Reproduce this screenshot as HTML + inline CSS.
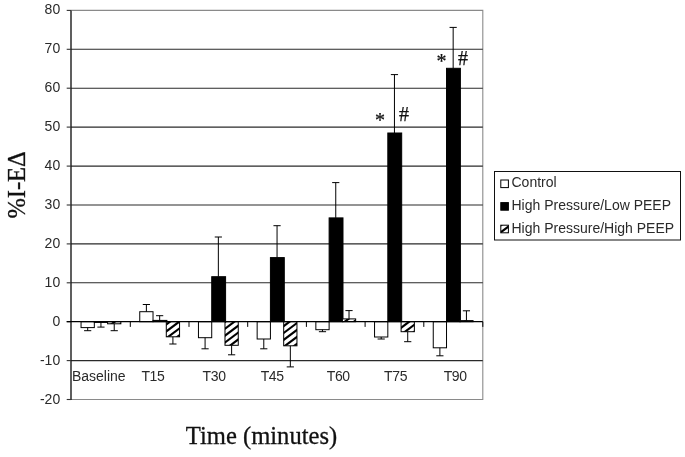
<!DOCTYPE html>
<html><head><meta charset="utf-8"><title>Chart</title>
<style>
html,body{margin:0;padding:0;background:#fff;}
body{width:685px;height:457px;overflow:hidden;}
svg{display:block;}
.ax{font-family:"Liberation Sans",Arial,sans-serif;font-size:14px;fill:#2a2a2a;}
.tl{letter-spacing:-0.4px;}
.ti{font-family:"Liberation Serif","Times New Roman",serif;font-size:24px;fill:#111;stroke:#111;stroke-width:0.3px;}
.mk{font-family:"Liberation Serif","Times New Roman",serif;font-size:20px;fill:#111;stroke:#111;stroke-width:0.25px;}
</style></head><body>
<svg width="685" height="457" viewBox="0 0 685 457">
<rect width="685" height="457" fill="#fff"/>
<path d="M71.0 10.4H482.8V399.5H71.0" fill="none" stroke="#8a8a8a" stroke-width="1.1"/>
<line x1="71.0" x2="482.8" y1="360.6" y2="360.6" stroke="#2a2a2a" stroke-width="1.1"/>
<line x1="71.0" x2="482.8" y1="282.8" y2="282.8" stroke="#2a2a2a" stroke-width="1.1"/>
<line x1="71.0" x2="482.8" y1="243.9" y2="243.9" stroke="#2a2a2a" stroke-width="1.1"/>
<line x1="71.0" x2="482.8" y1="205.0" y2="205.0" stroke="#2a2a2a" stroke-width="1.1"/>
<line x1="71.0" x2="482.8" y1="166.1" y2="166.1" stroke="#2a2a2a" stroke-width="1.1"/>
<line x1="71.0" x2="482.8" y1="127.1" y2="127.1" stroke="#2a2a2a" stroke-width="1.1"/>
<line x1="71.0" x2="482.8" y1="88.2" y2="88.2" stroke="#2a2a2a" stroke-width="1.1"/>
<line x1="71.0" x2="482.8" y1="49.3" y2="49.3" stroke="#2a2a2a" stroke-width="1.1"/>
<line x1="71.0" x2="71.0" y1="10.4" y2="400.0" stroke="#1a1a1a" stroke-width="1.4"/>
<line x1="66.7" x2="71.0" y1="399.5" y2="399.5" stroke="#333" stroke-width="1.1"/>
<text class="ax" x="60.2" y="404.4" text-anchor="end">-20</text>
<line x1="66.7" x2="71.0" y1="360.6" y2="360.6" stroke="#333" stroke-width="1.1"/>
<text class="ax" x="60.2" y="365.3" text-anchor="end">-10</text>
<line x1="66.7" x2="71.0" y1="321.7" y2="321.7" stroke="#333" stroke-width="1.1"/>
<text class="ax" x="60.2" y="326.3" text-anchor="end">0</text>
<line x1="66.7" x2="71.0" y1="282.8" y2="282.8" stroke="#333" stroke-width="1.1"/>
<text class="ax" x="60.2" y="287.2" text-anchor="end">10</text>
<line x1="66.7" x2="71.0" y1="243.9" y2="243.9" stroke="#333" stroke-width="1.1"/>
<text class="ax" x="60.2" y="248.2" text-anchor="end">20</text>
<line x1="66.7" x2="71.0" y1="205.0" y2="205.0" stroke="#333" stroke-width="1.1"/>
<text class="ax" x="60.2" y="209.2" text-anchor="end">30</text>
<line x1="66.7" x2="71.0" y1="166.1" y2="166.1" stroke="#333" stroke-width="1.1"/>
<text class="ax" x="60.2" y="170.1" text-anchor="end">40</text>
<line x1="66.7" x2="71.0" y1="127.1" y2="127.1" stroke="#333" stroke-width="1.1"/>
<text class="ax" x="60.2" y="131.1" text-anchor="end">50</text>
<line x1="66.7" x2="71.0" y1="88.2" y2="88.2" stroke="#333" stroke-width="1.1"/>
<text class="ax" x="60.2" y="92.0" text-anchor="end">60</text>
<line x1="66.7" x2="71.0" y1="49.3" y2="49.3" stroke="#333" stroke-width="1.1"/>
<text class="ax" x="60.2" y="52.9" text-anchor="end">70</text>
<line x1="66.7" x2="71.0" y1="10.4" y2="10.4" stroke="#333" stroke-width="1.1"/>
<text class="ax" x="60.2" y="13.9" text-anchor="end">80</text>
<rect x="81.05" y="321.70" width="13.27" height="5.90" fill="#fff" stroke="#000" stroke-width="1"/>
<path d="M87.69 327.60V330.70M84.09 330.70H91.28" stroke="#000" stroke-width="1" fill="none"/>
<rect x="94.32" y="321.70" width="13.87" height="0.70" fill="#000" stroke="#000" stroke-width="1"/>
<path d="M100.95 322.40V327.10M97.36 327.10H104.55" stroke="#000" stroke-width="1" fill="none"/>
<clipPath id="c1"><rect x="107.59" y="321.70" width="13.27" height="2.10"/></clipPath><rect x="107.59" y="321.70" width="13.27" height="2.10" fill="#fff"/><g clip-path="url(#c1)" stroke="#000" stroke-width="2.15"><line x1="105.59" y1="314.78" x2="122.86" y2="301.83"/><line x1="105.59" y1="321.68" x2="122.86" y2="308.73"/><line x1="105.59" y1="328.58" x2="122.86" y2="315.63"/><line x1="105.59" y1="335.48" x2="122.86" y2="322.53"/><line x1="105.59" y1="342.38" x2="122.86" y2="329.43"/><line x1="105.59" y1="349.28" x2="122.86" y2="336.33"/></g><rect x="107.59" y="321.70" width="13.27" height="2.10" fill="none" stroke="#000" stroke-width="1"/>
<path d="M114.23 323.80V330.70M110.63 330.70H117.83" stroke="#000" stroke-width="1" fill="none"/>
<rect x="139.75" y="311.70" width="13.27" height="10.00" fill="#fff" stroke="#000" stroke-width="1"/>
<path d="M146.38 311.70V304.50M142.78 304.50H149.98" stroke="#000" stroke-width="1" fill="none"/>
<rect x="153.02" y="320.40" width="13.87" height="1.30" fill="#000" stroke="#000" stroke-width="1"/>
<path d="M159.66 320.40V315.70M156.06 315.70H163.25" stroke="#000" stroke-width="1" fill="none"/>
<clipPath id="c2"><rect x="166.29" y="321.70" width="13.27" height="15.10"/></clipPath><rect x="166.29" y="321.70" width="13.27" height="15.10" fill="#fff"/><g clip-path="url(#c2)" stroke="#000" stroke-width="2.15"><line x1="164.29" y1="312.16" x2="181.56" y2="299.20"/><line x1="164.29" y1="319.06" x2="181.56" y2="306.10"/><line x1="164.29" y1="325.96" x2="181.56" y2="313.00"/><line x1="164.29" y1="332.86" x2="181.56" y2="319.90"/><line x1="164.29" y1="339.76" x2="181.56" y2="326.81"/><line x1="164.29" y1="346.66" x2="181.56" y2="333.70"/><line x1="164.29" y1="353.56" x2="181.56" y2="340.60"/><line x1="164.29" y1="360.46" x2="181.56" y2="347.50"/></g><rect x="166.29" y="321.70" width="13.27" height="15.10" fill="none" stroke="#000" stroke-width="1"/>
<path d="M172.92 336.80V344.00M169.32 344.00H176.52" stroke="#000" stroke-width="1" fill="none"/>
<rect x="198.45" y="321.70" width="13.27" height="16.00" fill="#fff" stroke="#000" stroke-width="1"/>
<path d="M205.08 337.70V348.80M201.48 348.80H208.68" stroke="#000" stroke-width="1" fill="none"/>
<rect x="211.72" y="276.70" width="13.87" height="45.00" fill="#000" stroke="#000" stroke-width="1"/>
<path d="M218.35 276.70V237.00M214.75 237.00H221.95" stroke="#000" stroke-width="1" fill="none"/>
<clipPath id="c3"><rect x="224.99" y="321.70" width="13.27" height="23.60"/></clipPath><rect x="224.99" y="321.70" width="13.27" height="23.60" fill="#fff"/><g clip-path="url(#c3)" stroke="#000" stroke-width="2.15"><line x1="222.99" y1="309.53" x2="240.26" y2="296.58"/><line x1="222.99" y1="316.43" x2="240.26" y2="303.48"/><line x1="222.99" y1="323.33" x2="240.26" y2="310.38"/><line x1="222.99" y1="330.23" x2="240.26" y2="317.28"/><line x1="222.99" y1="337.13" x2="240.26" y2="324.18"/><line x1="222.99" y1="344.03" x2="240.26" y2="331.08"/><line x1="222.99" y1="350.93" x2="240.26" y2="337.98"/><line x1="222.99" y1="357.83" x2="240.26" y2="344.88"/><line x1="222.99" y1="364.73" x2="240.26" y2="351.78"/><line x1="222.99" y1="371.63" x2="240.26" y2="358.68"/></g><rect x="224.99" y="321.70" width="13.27" height="23.60" fill="none" stroke="#000" stroke-width="1"/>
<path d="M231.62 345.30V354.80M228.02 354.80H235.22" stroke="#000" stroke-width="1" fill="none"/>
<rect x="257.15" y="321.70" width="13.27" height="17.30" fill="#fff" stroke="#000" stroke-width="1"/>
<path d="M263.79 339.00V348.80M260.19 348.80H267.39" stroke="#000" stroke-width="1" fill="none"/>
<rect x="270.42" y="257.60" width="13.87" height="64.10" fill="#000" stroke="#000" stroke-width="1"/>
<path d="M277.06 257.60V225.70M273.45 225.70H280.66" stroke="#000" stroke-width="1" fill="none"/>
<clipPath id="c4"><rect x="283.69" y="321.70" width="13.27" height="24.10"/></clipPath><rect x="283.69" y="321.70" width="13.27" height="24.10" fill="#fff"/><g clip-path="url(#c4)" stroke="#000" stroke-width="2.15"><line x1="281.69" y1="313.81" x2="298.96" y2="300.86"/><line x1="281.69" y1="320.71" x2="298.96" y2="307.75"/><line x1="281.69" y1="327.61" x2="298.96" y2="314.65"/><line x1="281.69" y1="334.51" x2="298.96" y2="321.55"/><line x1="281.69" y1="341.41" x2="298.96" y2="328.45"/><line x1="281.69" y1="348.31" x2="298.96" y2="335.36"/><line x1="281.69" y1="355.21" x2="298.96" y2="342.25"/><line x1="281.69" y1="362.11" x2="298.96" y2="349.15"/><line x1="281.69" y1="369.01" x2="298.96" y2="356.05"/></g><rect x="283.69" y="321.70" width="13.27" height="24.10" fill="none" stroke="#000" stroke-width="1"/>
<path d="M290.33 345.80V366.90M286.73 366.90H293.93" stroke="#000" stroke-width="1" fill="none"/>
<rect x="315.85" y="321.70" width="13.27" height="8.00" fill="#fff" stroke="#000" stroke-width="1"/>
<path d="M322.48 329.70V331.70M318.88 331.70H326.08" stroke="#000" stroke-width="1" fill="none"/>
<rect x="329.12" y="217.90" width="13.87" height="103.80" fill="#000" stroke="#000" stroke-width="1"/>
<path d="M335.75 217.90V182.60M332.15 182.60H339.35" stroke="#000" stroke-width="1" fill="none"/>
<clipPath id="c5"><rect x="342.39" y="318.90" width="13.27" height="2.80"/></clipPath><rect x="342.39" y="318.90" width="13.27" height="2.80" fill="#fff"/><g clip-path="url(#c5)" stroke="#000" stroke-width="2.15"><line x1="340.39" y1="311.18" x2="357.66" y2="298.23"/><line x1="340.39" y1="318.08" x2="357.66" y2="305.13"/><line x1="340.39" y1="324.98" x2="357.66" y2="312.03"/><line x1="340.39" y1="331.88" x2="357.66" y2="318.93"/><line x1="340.39" y1="338.78" x2="357.66" y2="325.83"/><line x1="340.39" y1="345.68" x2="357.66" y2="332.73"/></g><rect x="342.39" y="318.90" width="13.27" height="2.80" fill="none" stroke="#000" stroke-width="1"/>
<path d="M349.02 318.90V310.60M345.42 310.60H352.62" stroke="#000" stroke-width="1" fill="none"/>
<rect x="374.55" y="321.70" width="13.27" height="15.30" fill="#fff" stroke="#000" stroke-width="1"/>
<path d="M381.19 337.00V339.00M377.58 339.00H384.79" stroke="#000" stroke-width="1" fill="none"/>
<rect x="387.82" y="133.00" width="13.87" height="188.70" fill="#000" stroke="#000" stroke-width="1"/>
<path d="M394.45 133.00V74.60M390.85 74.60H398.06" stroke="#000" stroke-width="1" fill="none"/>
<clipPath id="c6"><rect x="401.09" y="321.70" width="13.27" height="10.00"/></clipPath><rect x="401.09" y="321.70" width="13.27" height="10.00" fill="#fff"/><g clip-path="url(#c6)" stroke="#000" stroke-width="2.15"><line x1="399.09" y1="308.56" x2="416.36" y2="295.61"/><line x1="399.09" y1="315.46" x2="416.36" y2="302.50"/><line x1="399.09" y1="322.36" x2="416.36" y2="309.40"/><line x1="399.09" y1="329.26" x2="416.36" y2="316.31"/><line x1="399.09" y1="336.16" x2="416.36" y2="323.21"/><line x1="399.09" y1="343.06" x2="416.36" y2="330.11"/><line x1="399.09" y1="349.96" x2="416.36" y2="337.00"/><line x1="399.09" y1="356.86" x2="416.36" y2="343.90"/></g><rect x="401.09" y="321.70" width="13.27" height="10.00" fill="none" stroke="#000" stroke-width="1"/>
<path d="M407.73 331.70V341.70M404.12 341.70H411.33" stroke="#000" stroke-width="1" fill="none"/>
<rect x="433.25" y="321.70" width="13.27" height="26.10" fill="#fff" stroke="#000" stroke-width="1"/>
<path d="M439.89 347.80V355.80M436.29 355.80H443.49" stroke="#000" stroke-width="1" fill="none"/>
<rect x="446.52" y="68.30" width="13.87" height="253.40" fill="#000" stroke="#000" stroke-width="1"/>
<path d="M453.16 68.30V27.40M449.56 27.40H456.76" stroke="#000" stroke-width="1" fill="none"/>
<clipPath id="c7"><rect x="459.79" y="320.60" width="13.27" height="1.10"/></clipPath><rect x="459.79" y="320.60" width="13.27" height="1.10" fill="#fff"/><g clip-path="url(#c7)" stroke="#000" stroke-width="2.15"><line x1="457.79" y1="312.83" x2="475.06" y2="299.88"/><line x1="457.79" y1="319.73" x2="475.06" y2="306.78"/><line x1="457.79" y1="326.63" x2="475.06" y2="313.68"/><line x1="457.79" y1="333.53" x2="475.06" y2="320.58"/><line x1="457.79" y1="340.43" x2="475.06" y2="327.48"/><line x1="457.79" y1="347.33" x2="475.06" y2="334.38"/></g><rect x="459.79" y="320.60" width="13.27" height="1.10" fill="none" stroke="#000" stroke-width="1"/>
<path d="M466.43 320.60V310.80M462.83 310.80H470.03" stroke="#000" stroke-width="1" fill="none"/>
<line x1="66.7" x2="482.8" y1="321.7" y2="321.7" stroke="#000" stroke-width="1.2"/>
<line x1="130.3" x2="130.3" y1="321.7" y2="326.9" stroke="#000" stroke-width="1"/>
<line x1="189.0" x2="189.0" y1="321.7" y2="326.9" stroke="#000" stroke-width="1"/>
<line x1="247.7" x2="247.7" y1="321.7" y2="326.9" stroke="#000" stroke-width="1"/>
<line x1="306.4" x2="306.4" y1="321.7" y2="326.9" stroke="#000" stroke-width="1"/>
<line x1="365.1" x2="365.1" y1="321.7" y2="326.9" stroke="#000" stroke-width="1"/>
<line x1="423.8" x2="423.8" y1="321.7" y2="326.9" stroke="#000" stroke-width="1"/>
<line x1="482.8" x2="482.8" y1="321.7" y2="326.9" stroke="#000" stroke-width="1"/>
<text class="ax" x="71.9" y="380.5">Baseline</text>
<text class="ax tl" x="141.4" y="380.5">T15</text>
<text class="ax tl" x="202.6" y="380.5">T30</text>
<text class="ax tl" x="260.7" y="380.5">T45</text>
<text class="ax tl" x="326.8" y="380.5">T60</text>
<text class="ax tl" x="384.1" y="380.5">T75</text>
<text class="ax tl" x="443.7" y="380.5">T90</text>
<text class="mk" x="375" y="127">*</text>
<text class="mk" x="399" y="120.5">#</text>
<text class="mk" x="436.5" y="68">*</text>
<text class="mk" x="458" y="64.5">#</text>
<rect x="494.5" y="171.5" width="186" height="68.5" fill="#fff" stroke="#111" stroke-width="1"/>
<rect x="500.8" y="180" width="7.6" height="7.6" fill="#fff" stroke="#000" stroke-width="1"/>
<rect x="500.8" y="202.6" width="7.6" height="7.6" fill="#000" stroke="#000" stroke-width="1"/>
<clipPath id="c8"><rect x="500.80" y="225.20" width="7.6" height="7.60"/></clipPath><rect x="500.80" y="225.20" width="7.6" height="7.60" fill="#fff"/><g clip-path="url(#c8)" stroke="#000" stroke-width="2.15"><line x1="498.80" y1="213.07" x2="510.40" y2="204.37"/><line x1="498.80" y1="219.98" x2="510.40" y2="211.28"/><line x1="498.80" y1="226.88" x2="510.40" y2="218.18"/><line x1="498.80" y1="233.77" x2="510.40" y2="225.07"/><line x1="498.80" y1="240.67" x2="510.40" y2="231.97"/><line x1="498.80" y1="247.57" x2="510.40" y2="238.87"/><line x1="498.80" y1="254.48" x2="510.40" y2="245.78"/></g><rect x="500.80" y="225.20" width="7.6" height="7.60" fill="none" stroke="#000" stroke-width="1"/>
<text class="ax" x="511.5" y="186.7">Control</text>
<text class="ax" x="511.5" y="210.4">High Pressure/Low PEEP</text>
<text class="ax" x="511.5" y="232.9">High Pressure/High PEEP</text>
<text class="ti" transform="translate(185.8 443.6) scale(1 1.045)" style="font-size:24.6px">Time (minutes)</text>
<text class="ti" transform="translate(25.1 218.6) rotate(-90) scale(1 1.06)" style="font-size:24.5px">%I-EΔ</text>
</svg>
</body></html>
